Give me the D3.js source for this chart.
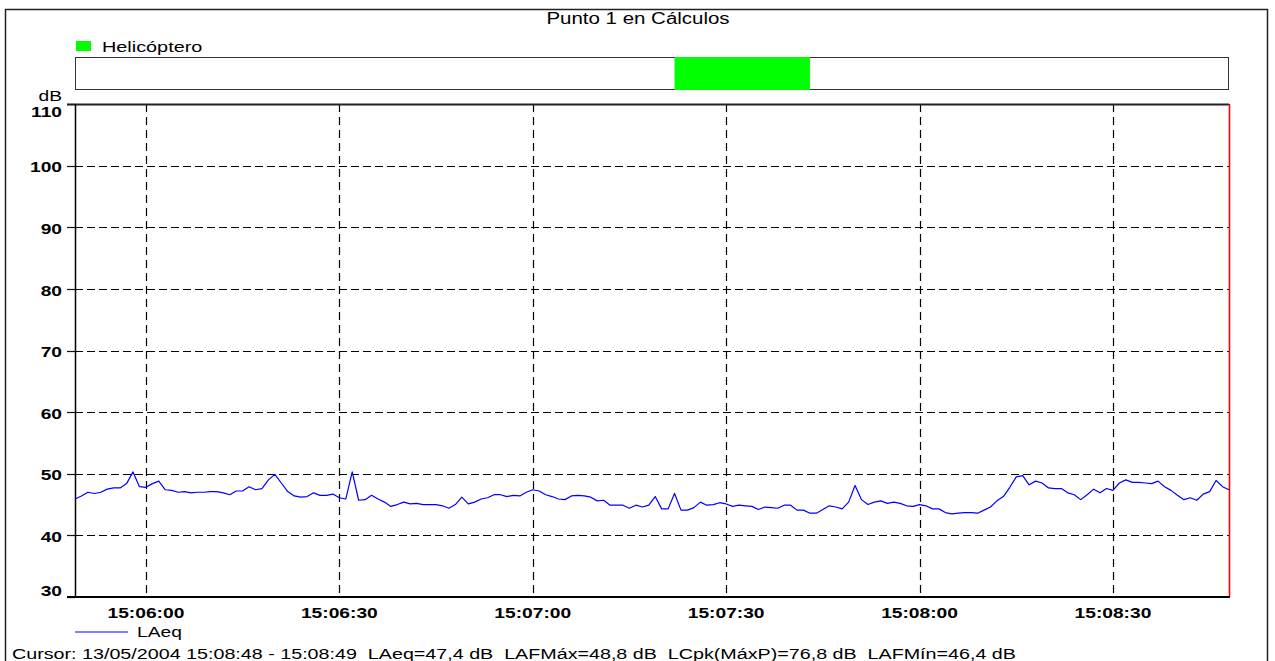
<!DOCTYPE html>
<html>
<head>
<meta charset="utf-8">
<script src="https://cdn.jsdelivr.net/npm/d3@7"></script>
<style>
  html, body { margin: 0; padding: 0; background: #fff; }
  svg text { font-family: Arial, "Liberation Sans", sans-serif; fill: #000; }
</style>
</head>
<body>
<svg id="chart" width="1275" height="661"></svg>
<script>
// ── Data ─────────────────────────────────────────────────────────
const startTime = '2004-05-13T15:05:49';
const endTime = '2004-05-13T15:08:48';
// LAeq, one value per second from 15:05:49
const laeq = [
  45.9, 46.4, 47.0, 46.8, 47.0, 47.5, 47.7, 47.7, 48.4, 50.3, 47.9,
  47.8, 48.4, 48.8, 47.4, 47.3, 47.0, 47.1, 46.9, 47.0, 47.0,
  47.1, 47.1, 46.9, 46.6, 47.2, 47.2, 47.9, 47.4, 47.6, 49.0,
  49.9, 48.5, 47.1, 46.4, 46.2, 46.3, 46.9, 46.5, 46.5, 46.7,
  46.1, 45.9, 50.3, 45.7, 45.8, 46.5, 45.9, 45.4, 44.7, 45.0,
  45.4, 45.1, 45.2, 45.0, 45.0, 45.0, 44.8, 44.4, 45.0, 46.2,
  45.1, 45.4, 45.9, 46.1, 46.6, 46.6, 46.3, 46.5, 46.4, 47.0,
  47.4, 47.2, 46.6, 46.3, 45.9, 45.8, 46.4, 46.5, 46.4, 46.2,
  45.6, 45.7, 44.9, 44.9, 44.9, 44.4, 44.9, 44.6, 44.9, 46.3,
  44.3, 44.3, 46.8, 44.1, 44.1, 44.5, 45.4, 44.9, 45.0, 45.3,
  45.1, 44.7, 44.9, 44.8, 44.7, 44.2, 44.6, 44.5, 44.4, 44.9,
  44.9, 44.1, 44.1, 43.6, 43.6, 44.2, 44.8, 44.6, 44.3, 45.4,
  48.1, 45.8, 45.0, 45.4, 45.6, 45.2, 45.4, 45.2, 44.8, 44.7,
  45.0, 44.8, 44.3, 44.3, 43.7, 43.5, 43.6, 43.7, 43.7, 43.6,
  44.1, 44.6, 45.6, 46.3, 47.8, 49.5, 49.7, 48.2, 48.8, 48.5,
  47.7, 47.6, 47.6, 46.9, 46.6, 45.8, 46.6, 47.5, 46.9, 47.6,
  47.3, 48.5, 49.0, 48.6, 48.6, 48.5, 48.4, 48.8, 47.9, 47.3,
  46.5, 45.8, 46.1, 45.7, 46.7, 47.1, 48.9, 47.9, 47.4
];
const yTicks = [30, 40, 50, 60, 70, 80, 90, 100, 110];
const eventName = 'Helicóptero';
const eventStart = '2004-05-13T15:07:22';
const eventEnd = '2004-05-13T15:07:43';
const title = 'Punto 1 en Cálculos';
const seriesName = 'LAeq';
const cursorText = 'Cursor: 13/05/2004 15:08:48 - 15:08:49  LAeq=47,4 dB  LAFMáx=48,8 dB  LCpk(MáxP)=76,8 dB  LAFMín=46,4 dB';

// ── Layout ───────────────────────────────────────────────────────
const plot = { left: 75, right: 1229, top: 104, bottom: 597 };
const band = { top: 57, bottom: 89 };
const STRETCH = 1.28; // text in the original is horizontally widened

const svg = d3.select('#chart');
const t0 = new Date(startTime);
const points = laeq.map((v, i) => ({ t: new Date(t0.getTime() + i * 1000), v }));

const x = d3.scaleTime()
  .domain([t0, new Date(endTime)])
  .range([plot.left, plot.right]);
const y = d3.scaleLinear()
  .domain([30, 110])
  .range([plot.bottom, plot.top]);

function stretchedText(parent, px, py, str, opts = {}) {
  const g = parent.append('g')
    .attr('transform', `translate(${px},${py}) scale(${STRETCH},1)`);
  return g.append('text')
    .attr('text-anchor', opts.anchor || 'start')
    .attr('dominant-baseline', opts.baseline || 'auto')
    .attr('font-size', opts.size || '15px')
    .attr('font-weight', opts.weight || 'normal')
    .style('white-space', 'pre')
    .text(str);
}

// ── Frame & title ────────────────────────────────────────────────
svg.append('rect')
  .attr('x', 5.5).attr('y', 9.5)
  .attr('width', 1262).attr('height', 680)
  .attr('fill', 'none').attr('stroke', '#222').attr('stroke-width', 1.5);

stretchedText(svg, 638, 24, title, { anchor: 'middle', size: '16px' });

// ── Event band ───────────────────────────────────────────────────
svg.append('rect')
  .attr('x', 76).attr('y', 41).attr('width', 15).attr('height', 10)
  .attr('fill', '#00ff00');
stretchedText(svg, 102, 52, eventName, { size: '15.5px' });

svg.append('rect')
  .attr('x', plot.left + 0.5).attr('y', band.top + 0.5)
  .attr('width', plot.right - plot.left - 1).attr('height', band.bottom - band.top)
  .attr('fill', '#fff').attr('stroke', '#333').attr('stroke-width', 1);

svg.append('rect')
  .attr('x', x(new Date(eventStart)))
  .attr('y', band.top)
  .attr('width', x(new Date(eventEnd)) - x(new Date(eventStart)))
  .attr('height', band.bottom - band.top + 1)
  .attr('fill', '#00ff00');

// ── Grid ─────────────────────────────────────────────────────────
const xTicks = x.ticks(d3.timeSecond.every(30));

svg.append('g')
  .selectAll('line')
  .data(yTicks.filter(v => v > 30 && v < 110))
  .enter()
  .append('line')
  .attr('x1', plot.left).attr('x2', plot.right)
  .attr('y1', d => Math.round(y(d)) + 0.5).attr('y2', d => Math.round(y(d)) + 0.5)
  .attr('stroke', '#000').attr('stroke-width', 1.2)
  .attr('stroke-dasharray', '8,4');

svg.append('g')
  .selectAll('line')
  .data(xTicks)
  .enter()
  .append('line')
  .attr('x1', d => Math.round(x(d)) + 0.5).attr('x2', d => Math.round(x(d)) + 0.5)
  .attr('y1', plot.top).attr('y2', plot.bottom)
  .attr('stroke', '#000').attr('stroke-width', 1.2)
  .attr('stroke-dasharray', '8,5');

// ── Axes ─────────────────────────────────────────────────────────
// y ticks (short solid stubs left of the axis)
svg.append('g')
  .selectAll('line')
  .data(yTicks)
  .enter()
  .append('line')
  .attr('x1', plot.left - 8).attr('x2', plot.left)
  .attr('y1', d => Math.round(y(d)) + 0.5).attr('y2', d => Math.round(y(d)) + 0.5)
  .attr('stroke', '#111').attr('stroke-width', 1.2);

// top border
svg.append('line')
  .attr('x1', plot.left - 8).attr('x2', plot.right)
  .attr('y1', plot.top + 0.5).attr('y2', plot.top + 0.5)
  .attr('stroke', '#222').attr('stroke-width', 1.8);

// left axis
svg.append('line')
  .attr('x1', plot.left + 0.5).attr('x2', plot.left + 0.5)
  .attr('y1', plot.top).attr('y2', plot.bottom)
  .attr('stroke', '#000').attr('stroke-width', 1.5);

// right cursor line
svg.append('line')
  .attr('x1', plot.right + 0.5).attr('x2', plot.right + 0.5)
  .attr('y1', plot.top).attr('y2', plot.bottom)
  .attr('stroke', '#ff0000').attr('stroke-width', 1.6);

// bottom axis
svg.append('line')
  .attr('x1', plot.left - 8).attr('x2', plot.right + 1)
  .attr('y1', plot.bottom).attr('y2', plot.bottom)
  .attr('stroke', '#000').attr('stroke-width', 2);

// y labels; end labels are kept inside the axis span
yTicks.forEach(v => {
  const cy = Math.min(591, Math.max(112, y(v) + 1.5));
  stretchedText(svg, 62, cy, String(v), { anchor: 'end', baseline: 'central', weight: 'bold' });
});
stretchedText(svg, 62, 101, 'dB', { anchor: 'end' });

// x labels
const fmt = d3.timeFormat('%H:%M:%S');
xTicks.forEach(d => {
  stretchedText(svg, x(d), 618, fmt(d), { anchor: 'middle', weight: 'bold' });
});

// ── Series ───────────────────────────────────────────────────────
const line = d3.line()
  .x(d => x(d.t))
  .y(d => y(d.v));

svg.append('path')
  .datum(points)
  .attr('d', line)
  .attr('fill', 'none')
  .attr('stroke', '#0000ff')
  .attr('stroke-width', 1.2)
  .attr('stroke-linejoin', 'round');

// ── Legend & cursor readout ──────────────────────────────────────
svg.append('line')
  .attr('x1', 75).attr('x2', 128)
  .attr('y1', 632).attr('y2', 632)
  .attr('stroke', '#0000ff').attr('stroke-width', 1.2);
stretchedText(svg, 137, 637, seriesName);

stretchedText(svg, 12, 659, cursorText, { size: '15.4px' });
</script>
</body>
</html>
